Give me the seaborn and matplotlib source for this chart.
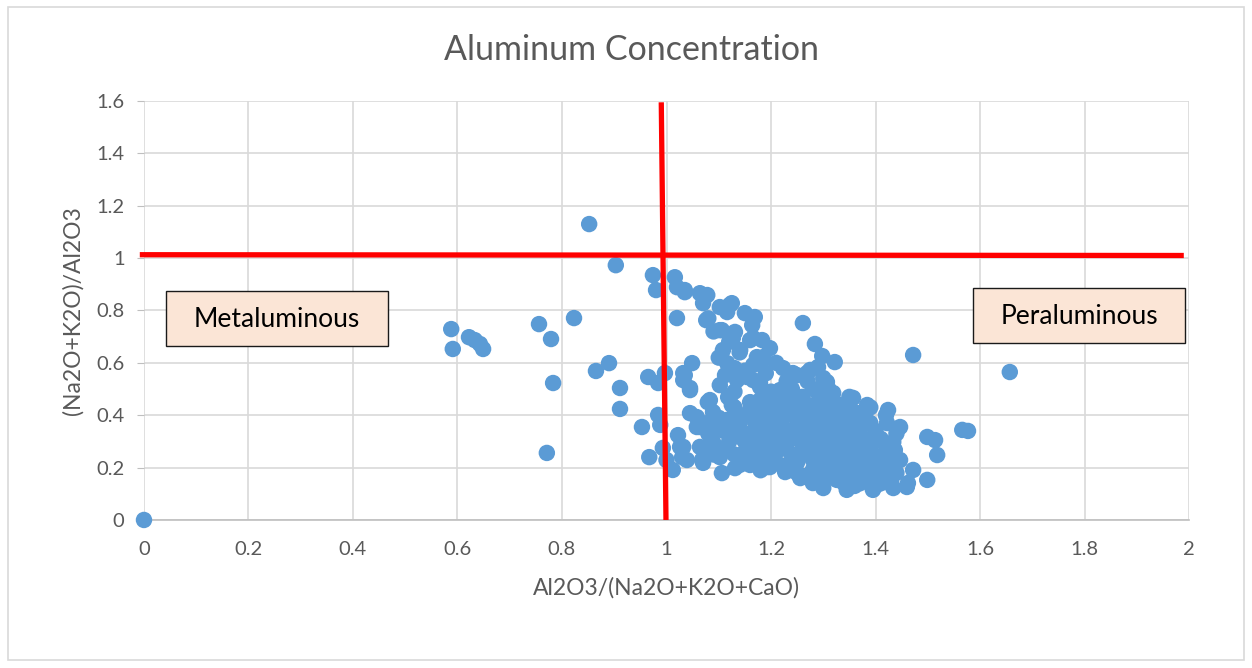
"""
Aluminum concentration scatter (A/CNK vs A/NK style diagram)
"""

import pandas as pd
import matplotlib.pyplot as plt
import seaborn as sns
from matplotlib.patches import Rectangle
from matplotlib.ticker import FuncFormatter, MultipleLocator

sns.set_style("white")
plt.rcParams['font.family'] = ['Lato', 'DejaVu Sans']

# Data
acnk = [
    0.0, 0.588, 0.591, 0.622, 0.633, 0.643, 0.649, 0.756, 0.779, 0.783, 0.823, 0.771,
    0.852, 0.865, 0.890, 0.903, 0.911, 0.911, 0.953, 0.967, 0.974, 0.980, 0.965, 0.984,
    0.997, 0.984, 0.988, 0.993, 1.012, 1.016, 1.020, 1.035, 1.064, 1.078, 1.070, 1.020,
    1.076, 1.102, 1.125, 1.116, 1.150, 1.169, 1.164, 1.106, 1.131, 1.127, 1.166, 1.183,
    1.108, 1.141, 1.173, 1.116, 1.166, 1.032, 1.049, 1.112, 1.261, 1.284, 1.298, 1.322,
    1.472, 1.657, 1.198, 1.185, 1.223, 1.242, 1.269, 1.290, 1.300, 1.250, 1.307, 1.357,
    1.384, 1.424, 1.422, 1.447, 1.434, 1.499, 1.514, 1.518, 1.472, 1.499, 1.462, 1.566,
    1.577, 1.437, 1.447, 1.422, 1.434, 1.395, 1.365, 1.351, 1.326, 1.294, 1.256, 1.227,
    1.198, 1.395, 1.434, 1.460, 1.376, 1.345, 1.300, 1.280, 1.307, 1.303, 1.275, 1.179,
    1.319, 1.389, 1.370, 1.376, 1.338, 1.280, 1.242, 1.217, 1.192, 1.242, 1.275, 1.217,
    1.332, 1.256, 1.217, 1.288, 1.338, 1.261, 1.307, 1.365, 1.204, 1.307, 1.345, 1.403,
    1.403, 1.022, 1.026, 1.045, 1.058, 1.058, 1.064, 1.070, 1.079, 1.039, 1.032, 1.045,
    1.089, 1.102, 1.118, 1.125, 1.102, 1.106, 1.131, 1.089, 1.102, 1.141, 1.127, 1.160,
    1.154, 1.179, 1.173, 1.179, 1.192, 1.078, 1.116, 1.166, 1.035, 1.045, 1.083, 1.135,
    1.166, 1.185, 1.160, 1.102, 1.121, 1.035, 1.064, 1.078, 1.068, 1.032, 1.030, 1.000,
    1.20, 1.22, 1.24, 1.25, 1.26, 1.27, 1.28, 1.29, 1.30, 1.30, 1.31, 1.32, 1.33, 1.34,
    1.35, 1.36, 1.37, 1.38, 1.39, 1.40, 1.41, 1.23, 1.25, 1.27, 1.29, 1.31, 1.33, 1.35,
    1.37, 1.39, 1.41, 1.43, 1.19, 1.21, 1.23, 1.26, 1.24, 1.28, 1.32, 1.34, 1.36, 1.30,
    1.22, 1.18, 1.16, 1.14, 1.12, 1.15, 1.17, 1.13, 1.10, 1.08, 1.11, 1.14, 1.19, 1.21,
    1.26, 1.28, 1.32, 1.36, 1.38, 1.40, 1.42, 1.44, 1.38, 1.34, 1.24, 1.27, 1.30, 1.34,
    1.36, 1.40, 1.42, 1.44, 1.42, 1.39, 1.35, 1.31, 1.27, 1.23, 1.20, 1.18, 1.16, 1.13,
    1.15, 1.19, 1.21, 1.14, 1.12, 1.09, 1.10, 1.13, 1.08,
]
ank = [
    0.0, 0.729, 0.653, 0.698, 0.687, 0.672, 0.653, 0.748, 0.691, 0.523, 0.771, 0.256,
    1.130, 0.569, 0.599, 0.973, 0.504, 0.424, 0.355, 0.240, 0.935, 0.878, 0.546, 0.523,
    0.561, 0.401, 0.363, 0.275, 0.191, 0.927, 0.889, 0.870, 0.866, 0.859, 0.828, 0.771,
    0.763, 0.813, 0.828, 0.794, 0.790, 0.775, 0.744, 0.725, 0.718, 0.695, 0.695, 0.687,
    0.649, 0.649, 0.622, 0.599, 0.592, 0.561, 0.599, 0.553, 0.752, 0.672, 0.626, 0.603,
    0.630, 0.565, 0.656, 0.611, 0.580, 0.561, 0.561, 0.584, 0.542, 0.553, 0.527, 0.466,
    0.439, 0.420, 0.370, 0.355, 0.298, 0.317, 0.305, 0.248, 0.191, 0.153, 0.141, 0.344,
    0.340, 0.267, 0.229, 0.240, 0.183, 0.191, 0.218, 0.164, 0.153, 0.141, 0.160, 0.183,
    0.202, 0.115, 0.122, 0.126, 0.153, 0.115, 0.122, 0.141, 0.324, 0.523, 0.573, 0.523,
    0.485, 0.370, 0.317, 0.256, 0.229, 0.191, 0.240, 0.279, 0.317, 0.344, 0.382, 0.420,
    0.408, 0.458, 0.496, 0.279, 0.317, 0.294, 0.447, 0.408, 0.240, 0.240, 0.279, 0.317,
    0.240, 0.324, 0.279, 0.408, 0.393, 0.355, 0.279, 0.218, 0.450, 0.229, 0.534, 0.504,
    0.412, 0.515, 0.469, 0.439, 0.240, 0.179, 0.198, 0.298, 0.351, 0.317, 0.382, 0.420,
    0.546, 0.508, 0.382, 0.256, 0.202, 0.370, 0.382, 0.294, 0.553, 0.496, 0.458, 0.534,
    0.534, 0.622, 0.687, 0.725, 0.821, 0.878, 0.355, 0.279, 0.229, 0.279, 0.240, 0.229,
    0.45, 0.38, 0.42, 0.36, 0.40, 0.33, 0.43, 0.37, 0.31, 0.40, 0.36, 0.28, 0.35, 0.38,
    0.33, 0.29, 0.35, 0.40, 0.28, 0.34, 0.22, 0.27, 0.22, 0.25, 0.20, 0.18, 0.21, 0.19,
    0.17, 0.16, 0.14, 0.15, 0.40, 0.33, 0.31, 0.47, 0.50, 0.50, 0.45, 0.43, 0.41, 0.47,
    0.44, 0.35, 0.33, 0.37, 0.30, 0.26, 0.23, 0.43, 0.39, 0.33, 0.27, 0.21, 0.29, 0.26,
    0.30, 0.28, 0.24, 0.24, 0.22, 0.19, 0.20, 0.18, 0.31, 0.26, 0.19, 0.17, 0.15, 0.14,
    0.13, 0.13, 0.28, 0.33, 0.40, 0.43, 0.47, 0.50, 0.53, 0.53, 0.49, 0.46, 0.45, 0.49,
    0.57, 0.56, 0.60, 0.64, 0.68, 0.72, 0.62, 0.58, 0.77,
]

# extra samples inside the dense core of the cluster
acnk_core = [
    1.21, 1.23, 1.25, 1.27, 1.29, 1.31, 1.33, 1.35, 1.37, 1.39, 1.41, 1.43, 1.22, 1.24,
    1.26, 1.28, 1.30, 1.32, 1.34, 1.36, 1.38, 1.40, 1.42, 1.22, 1.24, 1.26, 1.28, 1.30,
    1.32, 1.34, 1.36, 1.38, 1.40, 1.20, 1.18, 1.17, 1.19, 1.21, 1.23, 1.25, 1.29, 1.33,
    1.37, 1.39, 1.41, 1.25, 1.27, 1.29, 1.31, 1.33, 1.35, 1.37, 1.31, 1.29, 1.27, 1.33,
    1.35, 1.23, 1.25, 1.21, 1.15, 1.17, 1.11, 1.13, 1.09, 1.15, 1.13, 1.09, 1.18, 1.16,
]
ank_core = [
    0.41, 0.46, 0.44, 0.39, 0.45, 0.42, 0.40, 0.37, 0.32, 0.37, 0.31, 0.26, 0.35, 0.33,
    0.35, 0.33, 0.35, 0.32, 0.30, 0.27, 0.26, 0.24, 0.23, 0.29, 0.25, 0.27, 0.23, 0.25,
    0.20, 0.22, 0.20, 0.18, 0.21, 0.37, 0.41, 0.30, 0.25, 0.22, 0.21, 0.18, 0.17, 0.17,
    0.14, 0.19, 0.17, 0.39, 0.44, 0.41, 0.38, 0.44, 0.41, 0.38, 0.27, 0.30, 0.31, 0.27,
    0.30, 0.40, 0.31, 0.30, 0.40, 0.37, 0.34, 0.33, 0.38, 0.30, 0.25, 0.25, 0.19, 0.21,
]

df = pd.DataFrame({'acnk': acnk + acnk_core, 'ank': ank + ank_core})

fig = plt.figure(figsize=(12.52, 6.68), dpi=100)
ax = fig.add_axes([0.115, 0.2216, 0.8347, 0.6272])

# outer chart border
fig.patches.append(Rectangle((0.006, 0.012), 0.988, 0.978, transform=fig.transFigure,
                             fill=False, edgecolor='#d9d9d9', linewidth=1.2))

sns.scatterplot(data=df, x='acnk', y='ank', ax=ax, color='#5b9bd5',
                s=140, edgecolor='none', zorder=3, clip_on=False)

# divider lines
ax.plot([-0.008, 1.99], [1.013, 1.01], color='#ff0000', linewidth=3.8, zorder=4,
        solid_capstyle='butt', clip_on=False)
ax.plot([0.99, 0.999], [1.595, 0.0], color='#ff0000', linewidth=3.8, zorder=4,
        solid_capstyle='butt', clip_on=False)

# label boxes
for (x0, y0, w, h, label) in [(0.042, 0.664, 0.425, 0.21, 'Metaluminous'),
                              (1.587, 0.676, 0.405, 0.209, 'Peraluminous')]:
    ax.add_patch(Rectangle((x0, y0), w, h, facecolor='#fbe5d6', edgecolor='#1a1a1a',
                           linewidth=1.0, zorder=5))
    ax.text(x0 + w / 2, y0 + h / 2 - 0.005, label, ha='center', va='center',
            fontsize=19, color='black', zorder=6)

ax.set_xlim(0, 2)
ax.set_ylim(0, 1.6)
ax.xaxis.set_major_locator(MultipleLocator(0.2))
ax.yaxis.set_major_locator(MultipleLocator(0.2))
fmt = FuncFormatter(lambda v, p: f'{v:g}')
ax.xaxis.set_major_formatter(fmt)
ax.yaxis.set_major_formatter(fmt)
ax.grid(True, color='#d9d9d9', linewidth=1.2)
ax.set_axisbelow(True)

for side in ['top', 'right', 'left']:
    ax.spines[side].set_visible(False)
ax.spines['bottom'].set_color('#bfbfbf')
ax.spines['bottom'].set_linewidth(1.2)

ax.tick_params(axis='y', length=5, color='#bfbfbf', pad=9, labelsize=14.5,
               labelcolor='#595959', left=True)
ax.tick_params(axis='x', length=0, pad=15, labelsize=14.5, labelcolor='#595959')

# title is centred on the whole chart area, not on the plot area
fig.text(0.504, 0.925, 'Aluminum Concentration', fontsize=24.5, color='#595959',
         ha='center', va='center')
ax.set_xlabel('Al2O3/(Na2O+K2O+CaO)', fontsize=16.5, color='#595959', labelpad=14)
ax.set_ylabel('(Na2O+K2O)/Al2O3', fontsize=16.5, color='#595959', labelpad=9)

plt.savefig('out.png', dpi=100)
